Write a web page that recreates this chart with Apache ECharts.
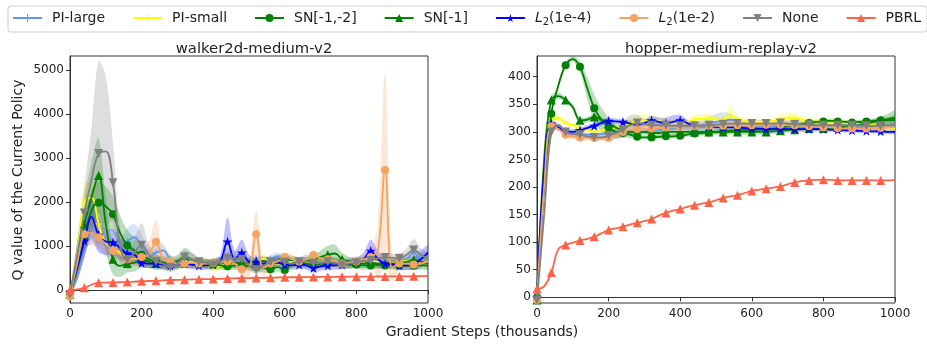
<!DOCTYPE html>
<html><head><meta charset="utf-8">
<script src="https://cdn.jsdelivr.net/npm/echarts@6/dist/echarts.min.js"></script>
<style>html,body{margin:0;padding:0;background:#fff}#c{width:927px;height:346px}</style>
</head><body><div id="c"></div>
<script>
// x grid: gradient steps (thousands)
const steps = Array.from({length: 51}, (_, i) => i * 20);
const xTicks = [0, 200, 400, 600, 800, 1000];
const yTicksL = [0, 1000, 2000, 3000, 4000, 5000];
const yTicksR = [0, 50, 100, 150, 200, 250, 300, 350, 400];
const names = ['PI-large', 'PI-small', 'SN[-1,-2]', 'SN[-1]', 'L2(1e-4)', 'L2(1e-2)', 'None', 'PBRL'];
const titles = ['walker2d-medium-v2', 'hopper-medium-replay-v2'];

// ---- walker2d-medium-v2 (left) ----
const PIL_L = [-50,600,1150,1400,1250, 1000,950,900,1100,1200, 1000,750,850,900,700, 600,650,600,600,580, 600,650,650,700,600, 650,700,650,700,750, 700,650,650,700,650, 600,650,650,620,650, 650,650,700,650,650, 600,650,700,850,700, 750];
const PIS_L = [-50,800,2000,2100,1500, 1050,950,850,750,700, 700,650,620,600,580, 600,620,640,600,580, 500,550,580,600,580, 620,650,700,650,600, 620,640,650,620,600, 620,640,650,620,600, 620,640,660,640,620, 620,640,660,640,650, 620];
const SN12_L = [-100,500,1150,1800,1985, 1900,1720,1300,1020,900, 800,700,650,620,600, 580,600,600,620,600, 580,560,540,560,560, 540,520,500,470,520, 455,600,620,600,580, 600,600,620,600,580, 580,560,560,570,560, 570,560,550,560,560, 560];
const SN1_L = [-100,700,1500,2100,2600, 1500,700,550,600,620, 700,650,600,620,600, 650,760,700,620,600, 620,640,600,620,600, 620,640,660,640,700, 700,680,650,650,700, 750,800,830,700,650, 620,600,620,600,620, 600,620,640,680,650, 600];
const L2a_L = [-50,500,1120,1660,1250, 1100,1080,950,830,800, 620,600,600,580,560, 600,600,580,560,560, 580,650,1100,700,850, 650,640,600,620,620, 580,560,580,560,500, 540,560,560,580,600, 640,700,890,700,600, 580,560,560,600,700, 850];
const L2b_L = [-150,600,1265,1300,1197, 1050,893,800,700,700, 750,800,1098,700,650, 600,600,620,600,600, 610,640,650,600,470, 500,1265,500,600,650, 750,700,650,700,795, 720,700,650,600,630, 650,700,750,900,2727, 500,600,600,580,600, 650];
const None_L = [-100,800,1750,2500,3100, 3150,2440,1000,680,850, 1020,800,650,600,515, 600,750,700,640,620, 570,650,720,720,700, 550,460,550,640,700, 630,600,640,650,610, 620,640,620,570,600, 620,650,670,720,740, 730,720,800,910,800, 720];
const PBRL_L = [0,15,50,120,167, 170,172,176,180,190, 200,205,210,218,225, 230,235,240,243,248, 250,255,260,265,270, 272,275,278,280,285, 288,290,290,292,295, 297,298,300,302,303, 303,305,306,307,308, 309,310,311,312,315, 318];

const PIL_L_sd = [20,200,300,350,300, 250,200,250,300,300, 250,200,200,150,100, 100,100,100,100,100, 100,100,100,100,100, 100,100,100,100,100, 100,100,100,100,100, 100,100,100,100,100, 100,100,100,100,100, 100,100,100,150,150, 150];
const PIS_L_sd = [20,300,400,350,300, 200,150,120,100,100, 100,100,100,100,100, 80,80,100,80,80, 80,80,80,80,80, 80,80,100,100,80, 80,80,80,80,80, 80,80,80,80,80, 80,80,80,80,80, 80,80,80,80,80, 80];
const SN12_L_sd = [50,300,400,450,500, 450,400,400,350,300, 250,200,150,120,100, 100,100,100,100,100, 100,100,100,100,100, 100,100,100,100,100, 100,100,100,100,100, 100,100,100,100,100, 100,100,100,100,100, 100,100,100,100,100, 100];
const SN1_L_sd = [50,400,600,800,850, 600,350,250,200,200, 200,150,150,150,150, 150,200,150,100,100, 100,100,100,100,100, 100,100,100,100,100, 100,100,100,100,100, 150,200,200,150,100, 100,100,100,100,100, 100,100,100,100,100, 100];
const L2a_L_sd = [50,300,400,500,400, 300,300,250,200,150, 100,100,100,100,100, 100,100,100,100,100, 100,150,550,200,300, 150,100,100,100,100, 100,100,100,100,100, 100,100,100,100,100, 100,150,250,200,100, 100,100,100,150,200, 150];
const L2b_L_sd = [50,200,250,300,250, 200,150,150,150,150, 200,300,500,200,150, 100,100,100,100,100, 100,100,100,100,150, 200,520,200,100,100, 100,100,100,100,100, 100,100,100,100,100, 100,100,150,600,2200, 300,150,100,100,100, 100];
const None_L_sd = [50,300,600,1200,2100, 1700,900,400,200,300, 500,250,150,150,100, 150,150,150,100,100, 100,100,150,150,100, 100,100,100,100,100, 100,100,100,100,100, 100,100,100,100,100, 100,100,100,100,100, 100,100,150,250,150, 100];

// ---- hopper-medium-replay-v2 (right) ----
const PIL_R = [0,200,305,308,298, 296,295,295,295,296, 298,299,300,299,298, 300,302,303,305,306, 308,308,310,312,316, 318,320,322,318,313, 310,310,310,311,312, 312,311,310,309,308, 308,308,308,308,308, 308,308,309,309,310, 310];
const PIS_R = [0,220,322,325,316, 312,306,303,301,302, 305,308,311,315,318, 320,320,319,318,316, 315,318,322,324,324, 323,322,330,322,319, 318,318,318,320,322, 325,325,322,320,319, 318,318,317,316,315, 314,313,312,310,308, 305];
const SN12_R = [0,200,333,385,421, 432,418,380,343,322, 308,300,298,295,291, 290,290,291,292,292, 293,295,297,298,299, 300,301,302,302,303, 303,304,305,306,308, 310,312,314,316,318, 319,320,319,318,317, 318,319,320,321,321, 322];
const SN1_R = [-5,250,358,365,358, 345,321,322,327,322, 315,308,303,300,300, 300,298,298,300,300, 300,300,300,300,300, 300,300,300,300,300, 300,300,300,301,302, 303,304,305,306,306, 306,307,308,310,312, 313,315,318,320,323, 326];
const L2a_R = [0,230,315,308,300, 300,303,307,311,316, 320,319,318,315,313, 316,321,318,316,318, 321,316,311,310,310, 309,308,308,308,307, 306,306,305,305,305, 305,305,305,305,305, 305,304,304,303,303, 302,302,301,301,300, 300];
const L2b_R = [-5,200,310,305,295, 291,290,289,289,288, 289,293,300,304,305, 305,306,307,308,308, 309,309,310,310,311, 311,311,312,312,312, 312,312,313,313,313, 312,312,311,310,309, 308,308,307,306,306, 306,306,307,307,308, 308];
const None_R = [-5,150,300,312,300, 296,295,292,290,290, 293,298,304,312,316, 314,312,312,312,311, 311,311,311,311,312, 313,314,315,315,315, 315,315,315,315,316, 315,314,313,313,312, 312,312,312,312,312, 312,311,311,311,312, 313];
const PBRL_R = [15,20,45,88,95, 99,103,106,110,116, 122,125,128,132,135, 138,142,148,153,157, 160,164,167,170,172, 176,180,183,185,189, 193,195,197,199,201, 205,208,211,212,213, 213,213,212,212,212, 212,212,212,212,212, 213];

const PIL_R_sd = [2,10,6,5,4, 4,4,4,4,4, 4,4,4,4,4, 4,4,5,5,5, 5,6,8,10,12, 15,15,12,8,6, 5,5,5,5,5, 5,5,5,5,5, 5,5,5,5,5, 5,5,5,5,5, 5];
const PIS_R_sd = [2,10,8,6,5, 5,4,4,4,4, 5,6,8,10,12, 12,10,8,6,6, 6,6,8,8,8, 6,6,17,10,6, 5,5,5,6,8, 10,8,6,5,5, 5,5,5,5,5, 5,5,5,5,5, 5];
const SN12_R_sd = [2,10,8,6,5, 5,10,20,25,22, 18,12,8,6,4, 4,4,4,4,4, 4,4,4,4,4, 4,4,4,4,4, 4,4,4,4,4, 4,4,4,4,4, 4,4,4,4,4, 4,4,4,5,6, 8];
const SN1_R_sd = [2,10,8,6,5, 5,5,5,5,5, 5,5,5,5,5, 5,5,5,5,5, 5,5,5,5,5, 5,5,5,5,5, 5,5,5,5,5, 5,5,5,5,5, 5,5,5,5,5, 5,5,6,8,10, 12];
const L2a_R_sd = [2,8,6,5,5, 5,5,5,5,5, 6,5,5,5,5, 6,8,8,10,12, 10,6,5,4,4, 4,4,4,4,4, 4,4,4,4,4, 4,4,4,4,4, 4,4,4,4,4, 4,4,4,4,4, 4];
const L2b_R_sd = [2,8,6,5,5, 5,5,5,5,5, 5,6,8,8,6, 5,5,5,5,5, 5,5,6,6,6, 6,6,6,6,6, 8,8,8,8,8, 8,10,10,8,6, 5,5,5,5,5, 5,5,5,5,5, 5];
const None_R_sd = [2,8,6,5,5, 5,5,5,5,5, 6,10,15,18,15, 10,8,6,6,6, 6,6,6,6,6, 6,6,6,6,6, 6,6,6,6,6, 6,6,6,6,6, 6,6,6,6,6, 6,6,6,6,6, 6];

const colors = ['#6495ED', '#FFFF00', '#008000', '#008000', '#0000FF', '#F4A460', '#808080', '#FF6347'];
const STAR = 'path://M50,0 L61,35 L98,35 L68,57 L79,91 L50,70 L21,91 L32,57 L2,35 L39,35 Z';
const TRIDOWN = 'path://M0,0 L10,0 L5,9 Z';
const TICK = 'path://M4.4,0 h1.2 v10 h-1.2 Z M0,4.4 h10 v1.2 h-10 Z';
const symbols = [TICK, TICK, 'circle', 'triangle', STAR, 'circle', TRIDOWN, 'triangle'];
const symSizes = [7, 7, 8, 9, 10, 8, 9, 9];

const leftMeans = [PIL_L, PIS_L, SN12_L, SN1_L, L2a_L, L2b_L, None_L, PBRL_L];
const leftSd = [PIL_L_sd, PIS_L_sd, SN12_L_sd, SN1_L_sd, L2a_L_sd, L2b_L_sd, None_L_sd, null];
const rightMeans = [PIL_R, PIS_R, SN12_R, SN1_R, L2a_R, L2b_R, None_R, PBRL_R];
const rightSd = [PIL_R_sd, PIS_R_sd, SN12_R_sd, SN1_R_sd, L2a_R_sd, L2b_R_sd, None_R_sd, null];

const series = [];
function addBand(ax, k, mean, sd) {
  if (!sd) return;
  series.push({
    type: 'custom', name: '_band' + ax + '_' + k, xAxisIndex: ax, yAxisIndex: ax,
    coordinateSystem: 'cartesian2d', silent: true, z: 1,
    data: [[steps[0], mean[0]]],
    renderItem: function (params, api) {
      if (params.dataIndex !== 0) return;
      const pts = [];
      for (let i = 0; i < steps.length; i++) pts.push(api.coord([steps[i], mean[i] + sd[i]]));
      for (let i = steps.length - 1; i >= 0; i--) pts.push(api.coord([steps[i], mean[i] - sd[i]]));
      const cs = params.coordSys;
      return {
        type: 'polygon', shape: {points: pts, smooth: 0.35},
        style: {fill: colors[k], opacity: 0.26},
        clipPath: {type: 'rect', shape: {x: cs.x, y: cs.y, width: cs.width, height: cs.height}}
      };
    }
  });
}
function addLine(ax, k, mean) {
  series.push({
    type: 'line', name: names[k], xAxisIndex: ax, yAxisIndex: ax,
    data: steps.map((x, i) => ({value: [x, mean[i]], symbol: (x % 40 === 0 && x < 1000) ? symbols[k] : 'none'})),
    symbol: symbols[k], symbolSize: symSizes[k], showAllSymbol: true, smooth: 0.4,
    itemStyle: {color: colors[k]}, lineStyle: {color: colors[k], width: 1.8}, z: 3 + k * 0.01
  });
}
[leftMeans, rightMeans].forEach((means, ax) => {
  const sds = ax === 0 ? leftSd : rightSd;
  means.forEach((m, k) => addBand(ax, k, m, sds[k]));
});
[leftMeans, rightMeans].forEach((means, ax) => {
  means.forEach((m, k) => addLine(ax, k, m));
});

const axisColor = '#333';
const tickFont = {fontFamily: 'DejaVu Sans', fontSize: 12, color: '#222', formatter: v => String(v)};
function xAx(gi) {
  return {type: 'value', gridIndex: gi, min: 0, max: 1000, interval: 200,
    axisLine: {show: true, lineStyle: {color: axisColor, width: 1}},
    axisTick: {show: true, inside: false, length: 4, lineStyle: {color: axisColor}},
    axisLabel: Object.assign({margin: 5}, tickFont), splitLine: {show: false}};
}
function yAx(gi, min, max, ticks) {
  return {type: 'value', gridIndex: gi, min: min, max: max,
    axisLine: {show: true, lineStyle: {color: axisColor, width: 1}},
    axisTick: {show: true, inside: false, length: 4, customValues: ticks, lineStyle: {color: axisColor}},
    axisLabel: Object.assign({margin: 6, customValues: ticks}, tickFont), splitLine: {show: false}};
}

const chart = echarts.init(document.getElementById('c'), null, {renderer: 'canvas'});
chart.setOption({
  animation: false,
  backgroundColor: '#fff',
  title: [
    {text: titles[0], left: 249, top: 37, textAlign: 'center', textStyle: {fontFamily: 'DejaVu Sans', fontSize: 14.8, fontWeight: 'normal', color: '#222'}},
    {text: titles[1], left: 716, top: 37, textAlign: 'center', textStyle: {fontFamily: 'DejaVu Sans', fontSize: 14.8, fontWeight: 'normal', color: '#222'}}
  ],
  legend: {
    data: names, left: 8, top: 6, width: 912, padding: [5, 6, 5, 4], itemGap: 27, itemWidth: 29, itemHeight: 10,
    borderColor: '#ccc', borderWidth: 1, borderRadius: 3,
    textStyle: {fontFamily: 'DejaVu Sans', fontSize: 14, color: '#222', padding: [0, 0, 0, 5],
      rich: {i: {fontFamily: 'DejaVu Sans', fontSize: 14, fontStyle: 'italic', color: '#222'},
             s: {fontFamily: 'DejaVu Sans', fontSize: 10, color: '#222', padding: [8, 0, 0, 0]},
             n: {fontFamily: 'DejaVu Sans', fontSize: 14, color: '#222'}}},
    formatter: function (n) {
      if (n.indexOf('L2') === 0) return '{i|L}{s|2}{n|' + n.slice(2) + '}';
      return n;
    }
  },
  grid: [
    {left: 70, top: 56, width: 358, height: 247, show: true, borderColor: axisColor, borderWidth: 1, backgroundColor: 'transparent'},
    {left: 537, top: 56, width: 358, height: 247, show: true, borderColor: axisColor, borderWidth: 1, backgroundColor: 'transparent'}
  ],
  xAxis: [xAx(0), xAx(1)],
  yAxis: [yAx(0, -295, 5318, yTicksL), yAx(1, -10.3, 437.6, yTicksR)],
  graphic: [
    {type: 'text', x: 18, y: 180, rotation: Math.PI / 2,
     style: {text: 'Q value of the Current Policy', fontFamily: 'DejaVu Sans', fontSize: 14, fill: '#222', textAlign: 'center', textVerticalAlign: 'middle'}},
    {type: 'text', x: 482, y: 332,
     style: {text: 'Gradient Steps (thousands)', fontFamily: 'DejaVu Sans', fontSize: 14, fill: '#222', textAlign: 'center', textVerticalAlign: 'middle'}}
  ],
  series: series
});
</script>
</body></html>
